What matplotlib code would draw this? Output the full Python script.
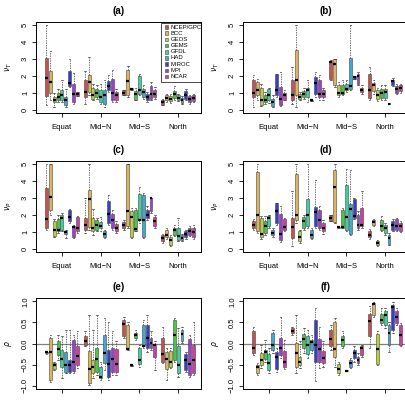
import matplotlib
matplotlib.use("Agg")
import matplotlib.pyplot as plt
from matplotlib.patches import Rectangle

plt.rcParams['font.family'] = ['Liberation Sans', 'DejaVu Sans']

models = ["NCEP/GPCP", "BCC", "GEOS", "GEMS", "GFDL", "HAD", "MIROC", "MPI", "NCAR"]
regions = ["Equat", "Mid\u2212N", "Mid\u2212S", "North"]
colors = ['#C85050', '#E0B45A', '#B4D23C', '#46C846', '#3CD2A0',
          '#3CAAD2', '#3C3CC8', '#A03CD2', '#D23CA0']

# each entry: (whisker low, q1, median, q3, whisker high); 9 models per region
panel_a = [
    # Equat
    (0.26, 0.81, 1.88, 3.08, 5.0), (0.55, 0.99, 1.64, 2.27, 3.5), (0.15, 0.45, 0.6, 0.75, 1.0),
    (0.45, 0.55, 0.75, 1.0, 1.25), (0.45, 0.55, 0.85, 1.15, 1.75), (0.15, 0.26, 0.55, 0.75, 1.25),
    (1.35, 1.38, 1.58, 2.27, 3.0), (0.35, 0.45, 0.9, 1.54, 2.2), (0.8, 0.8, 0.92, 1.05, 1.05),
    # Mid-N
    (0.35, 0.75, 1.05, 1.74, 2.3), (0.85, 1.05, 1.64, 2.04, 3.1), (0.55, 0.65, 0.85, 1.3, 1.55),
    (0.65, 0.75, 1.0, 1.25, 1.45), (0.35, 0.45, 0.75, 1.15, 1.55), (0.15, 0.35, 0.85, 1.15, 1.75),
    (1.05, 1.15, 1.38, 1.68, 2.04), (0.45, 0.55, 1.0, 1.8, 2.33), (0.45, 0.55, 0.85, 1.05, 1.25),
    # Mid-S
    (0.85, 0.85, 1.0, 1.15, 1.15), (0.75, 0.85, 1.7, 2.37, 2.57), (1.15, 1.15, 1.22, 1.3, 1.3),
    (0.55, 0.6, 0.95, 1.1, 1.3), (0.85, 0.9, 1.15, 1.98, 2.13), (0.65, 0.75, 1.05, 1.25, 1.45),
    (0.45, 0.55, 0.75, 0.95, 1.05), (0.55, 0.65, 0.9, 1.4, 1.64), (0.65, 0.75, 0.9, 1.19, 1.35),
    # North
    (0.26, 0.3, 0.45, 0.6, 0.65), (0.45, 0.55, 0.71, 0.85, 0.95), (0.4, 0.5, 0.65, 0.81, 0.95),
    (0.6, 0.71, 0.95, 1.1, 1.38), (0.51, 0.55, 0.71, 0.85, 0.91), (0.36, 0.4, 0.55, 0.71, 0.79),
    (0.55, 0.65, 0.85, 1.1, 1.25), (0.36, 0.45, 0.65, 0.79, 0.85), (0.45, 0.5, 0.71, 0.85, 0.91),
]

panel_b = [
    (0.15, 0.75, 1.0, 1.74, 2.04), (0.55, 0.85, 1.15, 1.64, 1.84), (0.2, 0.3, 0.6, 1.3, 1.55),
    (0.35, 0.45, 0.6, 0.85, 1.05), (0.4, 0.55, 0.85, 1.25, 1.3), (0.15, 0.2, 0.45, 0.65, 0.85),
    (0.75, 0.85, 1.19, 2.1, 2.1), (0.2, 0.26, 0.63, 1.35, 2.23), (0.55, 0.6, 0.85, 1.0, 1.15),
    (0.35, 0.55, 0.89, 1.74, 2.53), (0.15, 0.85, 1.74, 3.52, 5.0), (0.55, 0.63, 0.75, 0.9, 1.05),
    (0.65, 0.75, 0.95, 1.1, 1.3), (0.45, 0.75, 1.15, 1.3, 1.74), (0.5, 0.5, 0.55, 0.6, 0.6),
    (0.75, 0.95, 1.58, 1.94, 2.23), (0.55, 0.75, 0.95, 1.74, 2.04), (0.55, 0.75, 0.95, 1.15, 1.3),
    (1.74, 1.84, 2.83, 2.87, 2.93), (1.35, 1.44, 2.73, 3.02, 3.02), (0.75, 0.85, 1.0, 1.44, 1.64),
    (0.85, 0.9, 1.0, 1.44, 1.74), (1.05, 1.15, 1.25, 1.54, 1.74), (1.15, 1.25, 1.38, 3.08, 5.0),
    (1.84, 1.84, 1.94, 1.98, 1.98), (1.44, 1.54, 1.98, 2.13, 2.23), (0.95, 1.05, 1.15, 1.3, 1.44),
    (0.55, 0.71, 1.19, 2.1, 2.53), (0.95, 1.1, 1.44, 1.58, 1.74), (0.51, 0.65, 0.85, 1.19, 1.3),
    (0.55, 0.71, 1.0, 1.25, 1.44), (0.55, 0.71, 1.05, 1.25, 1.44), (0.36, 0.36, 0.36, 0.38, 0.38),
    (1.38, 1.48, 1.68, 1.78, 1.9), (0.91, 1.0, 1.25, 1.38, 1.54), (0.99, 1.1, 1.3, 1.44, 1.54),
]

panel_c = [
    (1.13, 1.23, 1.73, 3.57, 5.0), (2.0, 2.28, 3.06, 5.0, 5.0), (0.67, 0.73, 1.09, 1.63, 1.73),
    (0.93, 1.03, 1.13, 1.73, 2.02), (1.03, 1.13, 1.79, 2.02, 2.12), (0.63, 0.87, 0.99, 1.07, 1.13),
    (1.53, 1.63, 1.87, 2.32, 2.38), (0.63, 0.67, 1.29, 1.37, 1.43), (0.93, 1.03, 1.23, 1.88, 1.92),
    (0.93, 1.09, 1.39, 1.79, 3.02), (1.13, 1.29, 2.92, 3.45, 5.0), (0.83, 1.03, 1.23, 1.79, 2.38),
    (1.03, 1.13, 1.43, 1.67, 1.79), (1.03, 1.23, 1.37, 1.59, 1.87), (0.63, 0.69, 0.87, 1.03, 1.13),
    (1.43, 1.53, 2.06, 2.82, 3.21), (1.13, 1.23, 1.67, 2.06, 2.32), (0.93, 1.03, 1.23, 1.47, 1.63),
    (1.13, 1.23, 1.43, 1.59, 1.67), (1.23, 1.33, 2.26, 5.0, 5.0), (0.63, 0.67, 1.87, 2.22, 2.42),
    (1.03, 1.07, 1.17, 2.32, 2.42), (1.53, 1.67, 1.67, 3.25, 3.65), (0.63, 0.67, 1.67, 3.21, 3.31),
    (1.67, 1.79, 2.02, 2.32, 2.52), (2.12, 2.26, 3.02, 3.02, 3.02), (1.23, 1.37, 1.63, 1.87, 2.02),
    (0.34, 0.44, 0.63, 0.79, 0.87), (0.59, 0.67, 0.83, 1.13, 1.23), (0.14, 0.2, 0.54, 0.67, 0.79),
    (0.73, 0.83, 1.13, 1.23, 1.43), (0.48, 0.54, 0.73, 1.23, 1.83), (0.44, 0.54, 0.63, 0.79, 0.87),
    (0.59, 0.67, 0.87, 1.03, 1.13), (0.73, 0.83, 1.07, 1.23, 1.33), (0.59, 0.67, 0.99, 1.23, 1.39),
]

panel_d = [
    (1.13, 1.23, 1.39, 1.63, 1.73), (0.93, 1.03, 1.98, 4.56, 5.0), (0.59, 0.67, 0.87, 1.79, 1.92),
    (0.83, 0.93, 1.33, 1.63, 1.92), (1.23, 1.33, 1.79, 1.92, 2.02), (0.67, 0.83, 0.93, 1.13, 1.23),
    (1.43, 1.53, 2.22, 2.72, 2.72), (0.4, 0.54, 0.87, 2.06, 2.52), (1.03, 1.13, 1.27, 1.73, 1.83),
    (0.14, 0.63, 1.27, 1.83, 3.41), (1.53, 1.67, 2.02, 4.44, 5.0), (0.34, 0.44, 0.67, 1.03, 1.13),
    (1.13, 1.23, 1.63, 1.87, 2.02), (1.23, 1.33, 1.98, 2.92, 5.0), (0.59, 0.63, 0.83, 1.13, 1.23),
    (1.23, 1.33, 2.18, 2.46, 4.05), (1.13, 1.23, 1.67, 2.32, 2.52), (0.87, 1.03, 1.23, 1.53, 1.67),
    (1.63, 1.63, 1.79, 2.02, 2.02), (1.53, 1.59, 3.65, 4.64, 5.0), (1.22, 1.24, 1.26, 1.28, 1.3),
    (1.2, 1.23, 1.26, 2.28, 2.4), (1.03, 1.13, 1.88, 3.77, 4.7), (0.8, 0.87, 2.38, 2.62, 4.64),
    (1.73, 1.79, 1.92, 2.92, 3.0), (1.13, 1.23, 1.43, 2.02, 2.22), (1.23, 1.33, 1.39, 2.42, 3.41),
    (0.59, 0.67, 0.83, 1.07, 1.19), (1.33, 1.39, 1.57, 1.67, 1.73), (0.14, 0.2, 0.34, 0.48, 0.54),
    (1.03, 1.13, 1.33, 1.67, 1.92), (0.83, 0.93, 1.23, 1.43, 1.53), (0.2, 0.28, 0.63, 0.83, 0.93),
    (1.03, 1.13, 1.43, 1.63, 1.73), (1.03, 1.13, 1.33, 1.73, 1.79), (0.99, 1.07, 1.33, 1.53, 1.63),
]

panel_e = [
    (-0.24, -0.23, -0.21, -0.19, -0.18), (-0.92, -0.87, -0.21, 0.13, 0.21), (-0.63, -0.6, -0.52, -0.47, -0.43),
    (-0.39, -0.27, -0.13, 0.06, 0.21), (-0.83, -0.55, -0.37, -0.15, 0.17), (-0.71, -0.67, -0.51, -0.21, 0.33),
    (-0.71, -0.67, -0.51, -0.39, 0.33), (-0.71, -0.65, -0.43, 0.09, 0.21), (-0.59, -0.51, -0.29, -0.07, 0.29),
    (-0.07, -0.03, 0.05, 0.17, 0.29), (-0.98, -0.94, -0.6, -0.17, 0.68), (-0.83, -0.71, -0.55, -0.39, 0.33),
    (-0.75, -0.67, -0.37, -0.1, 0.68), (-0.87, -0.83, -0.79, -0.55, -0.43), (-0.63, -0.47, -0.23, 0.21, 0.6),
    (-0.87, -0.79, -0.48, -0.15, 0.52), (-0.75, -0.67, -0.37, -0.11, 0.29), (-0.75, -0.67, -0.48, -0.13, 0.05),
    (0.13, 0.17, 0.46, 0.56, 0.64), (-0.15, -0.13, -0.13, 0.44, 0.52), (-0.54, -0.53, -0.52, -0.51, -0.5),
    (0.09, 0.14, 0.21, 0.25, 0.33), (-0.55, -0.49, -0.39, -0.11, -0.03), (-0.11, -0.07, -0.05, 0.43, 0.56),
    (-0.19, -0.11, 0.13, 0.43, 0.68), (-0.15, -0.1, 0.01, 0.13, 0.29), (-0.63, -0.33, -0.03, -0.02, 0.05),
    (-0.47, -0.43, -0.25, 0.13, 0.4), (-0.87, -0.6, -0.37, -0.21, -0.11), (-0.59, -0.55, -0.44, -0.17, -0.11),
    (-0.44, -0.39, 0.19, 0.56, 0.6), (-0.79, -0.71, -0.51, -0.07, 0.37), (0.01, 0.05, 0.23, 0.33, 0.4),
    (-0.67, -0.63, -0.39, -0.25, -0.21), (-0.79, -0.75, -0.49, 0.11, 0.21), (-0.75, -0.71, -0.39, -0.03, 0.52),
]

panel_f = [
    (-0.27, -0.23, -0.1, 0.3, 0.4), (-0.75, -0.71, -0.55, -0.51, -0.47), (-0.59, -0.51, -0.39, -0.23, -0.03),
    (-0.43, -0.37, -0.21, -0.15, 0.09), (-0.71, -0.63, -0.47, -0.25, -0.11), (-0.23, -0.15, -0.03, 0.25, 0.33),
    (-0.67, -0.6, -0.33, -0.19, -0.11), (-0.35, -0.27, -0.1, 0.14, 0.64), (-0.6, -0.55, -0.43, -0.17, 0.09),
    (0.21, 0.25, 0.3, 0.37, 0.4), (-0.71, -0.55, -0.23, 0.01, 0.68), (-0.59, -0.51, -0.43, -0.33, 0.05),
    (-0.23, -0.11, 0.11, 0.22, 0.37), (-0.35, -0.25, -0.03, 0.17, 0.33), (-0.23, -0.15, 0.03, 0.09, 0.21),
    (-0.9, -0.43, -0.03, 0.56, 0.84), (-0.59, -0.43, -0.13, 0.11, 0.4), (-0.55, -0.47, -0.35, -0.17, 0.05),
    (-0.15, -0.07, 0.11, 0.33, 0.44), (-0.55, -0.31, -0.13, 0.52, 0.6), (-0.75, -0.71, -0.6, -0.49, -0.43),
    (-0.11, -0.07, 0.09, 0.17, 0.29), (-0.66, -0.66, -0.65, -0.64, -0.64), (-0.59, -0.55, -0.47, -0.39, -0.35),
    (-0.43, -0.35, -0.23, -0.15, -0.07), (-0.51, -0.47, -0.39, -0.31, -0.23), (-0.31, -0.27, -0.1, -0.07, -0.03),
    (-0.11, 0.17, 0.54, 0.7, 0.88), (0.64, 0.68, 0.94, 0.96, 0.98), (-0.51, -0.49, -0.13, 0.22, 0.29),
    (0.44, 0.48, 0.56, 0.7, 0.84), (0.37, 0.44, 0.68, 0.76, 0.84), (-0.19, -0.03, 0.25, 0.44, 0.52),
    (0.25, 0.33, 0.86, 0.92, 0.98), (0.44, 0.48, 0.64, 0.76, 0.84), (-0.07, -0.03, 0.19, 0.44, 0.48),
]

titles = ["(a)", "(b)", "(c)", "(d)", "(e)", "(f)"]
ylabels = [r"$\nu_T$", r"$\nu_T$", r"$\nu_P$", r"$\nu_P$", r"$\rho$", r"$\rho$"]
panels = [panel_a, panel_b, panel_c, panel_d, panel_e, panel_f]

fig = plt.figure(figsize=(4.05, 4.0), dpi=100)
lefts = [36 / 405, 243 / 405]
bottoms = [1 - 113 / 400, 1 - 252 / 400, 1 - 389 / 400]
w, h = 165 / 405, 91 / 400

positions = [10 * g + m + 1 for g in range(4) for m in range(9)]
tick_pos = [10 * g + 5 for g in range(4)]


def draw_panel(ax, data, title, ylabel, corr):
    stats = [dict(whislo=s[0], q1=s[1], med=s[2], q3=s[3], whishi=s[4], fliers=[]) for s in data]
    bp = ax.bxp(stats, positions=positions, widths=0.75, patch_artist=True,
                boxprops=dict(edgecolor='#444444', linewidth=0.4),
                medianprops=dict(color='black', linewidth=1.6, solid_capstyle='butt'),
                whiskerprops=dict(color='#333333', linewidth=0.5, linestyle=(0, (2, 1.5))),
                capprops=dict(color='#333333', linewidth=0.5))
    for i, patch in enumerate(bp['boxes']):
        patch.set_facecolor(colors[i % 9])
    ax.set_xlim(-1.7, 40.9)
    if corr:
        ax.set_ylim(-1.08, 1.08)
        yt = [-1.0, -0.5, 0.0, 0.5, 1.0]
        ax.set_yticks(yt)
        ax.set_yticklabels([f"{v:.1f}".replace("-", "\u2212") for v in yt])
        ax.axhline(0, color='#808080', linewidth=0.9, zorder=0)
    else:
        ax.set_ylim(-0.2, 5.2)
        ax.set_yticks(range(6))
        ax.set_yticklabels([str(v) for v in range(6)])
    ax.set_xticks(tick_pos)
    ax.set_xticklabels(regions)
    ax.tick_params(axis='y', labelsize=5.5, length=3, width=0.6, pad=2, labelrotation=90)
    ax.tick_params(axis='x', labelsize=5.5, length=3, width=0.6, pad=5)
    for lab in ax.get_yticklabels():
        lab.set_va('center')
    for sp in ax.spines.values():
        sp.set_linewidth(0.7)
    ax.set_ylabel(ylabel, fontsize=5.5, labelpad=6)
    ax.set_title(title, fontsize=7, fontweight='bold', pad=6)


for k in range(6):
    r, c = divmod(k, 2)
    ax = fig.add_axes([lefts[c], bottoms[r], w, h])
    draw_panel(ax, panels[k], titles[k], ylabels[k], r == 2)
    if k == 0:
        # legend box drawn inside the plot region, clipped at its edge
        ax.add_patch(Rectangle((0.755, 0.345), 0.4, 0.64, transform=ax.transAxes,
                               facecolor='white', edgecolor='black', linewidth=0.5,
                               clip_on=True, zorder=5))
        for i, (name, col) in enumerate(zip(models, colors)):
            yy = 0.945 - i * 0.068
            ax.add_patch(Rectangle((0.782, yy - 0.02), 0.018, 0.04, transform=ax.transAxes,
                                   facecolor=col, edgecolor='#444444', linewidth=0.4,
                                   clip_on=True, zorder=6))
            ax.text(0.815, yy, name, transform=ax.transAxes, fontsize=4.3,
                    va='center', ha='left', clip_on=True, zorder=6)

fig.savefig("out.png", dpi=100)
